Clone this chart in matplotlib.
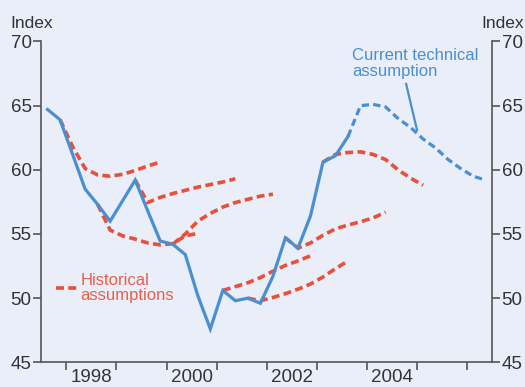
import numpy as np
import matplotlib.pyplot as plt

plt.rcParams['font.family'] = ['Liberation Sans', 'DejaVu Sans']

# quarterly index, first point is 1997 Q3
start_year = 1997.625
actual = [64.7, 63.9, 61.2, 58.5, 57.3, 56.0, 57.6, 59.2, 56.8, 54.45,
          54.2, 53.4, 50.2, 47.6, 50.6, 49.8, 50.0, 49.6, 51.7, 54.7,
          53.9, 56.4, 60.6, 61.1, 62.6]
# current technical assumption, starts at the last actual quarter
current = [62.6, 65.0, 65.1, 64.9, 64.0, 63.3, 62.4, 61.7, 60.8, 60.1, 59.5, 59.2]
current_start = 24

# historical assumptions: (first quarter index, values)
hist_starts = [1, 4, 7, 10, 14, 16, 19, 22]
hist_values = [
    [63.9, 61.8, 60.1, 59.6, 59.5, 59.65, 59.95, 60.3, 60.6],
    [57.3, 55.3, 54.85, 54.6, 54.3, 54.15, 54.25, 54.85, 55.05],
    [59.2, 57.45, 57.85, 58.15, 58.4, 58.65, 58.85, 59.05, 59.3],
    [54.2, 55.0, 56.0, 56.6, 57.1, 57.45, 57.7, 57.95, 58.1],
    [50.6, 50.9, 51.2, 51.6, 52.1, 52.55, 52.9, 53.3],
    [50.0, 49.8, 50.05, 50.35, 50.7, 51.1, 51.65, 52.3, 52.9],
    [54.7, 53.9, 54.3, 54.9, 55.4, 55.7, 55.95, 56.25, 56.7],
    [60.6, 61.2, 61.35, 61.4, 61.2, 60.8, 60.0, 59.35, 58.8],
]

years = [1998, 1999, 2000, 2001, 2002, 2003, 2004, 2005, 2006]
year_labels = ['1998', '', '2000', '', '2002', '', '2004', '', '']

bg = '#e9eef8'
blue = '#4a8fcf'
red = '#e8503a'
axis_col = '#555555'
text_col = '#333333'


def qx(first, n):
    return start_year + 0.25 * (first + np.arange(n))


fig = plt.figure(figsize=(5.25, 3.87), dpi=100, facecolor=bg)
ax = fig.add_axes([0.0787, 0.0638, 0.8584, 0.829], facecolor=bg)

for first, vals in zip(hist_starts, hist_values):
    ax.plot(qx(first, len(vals)), vals, color=red, lw=2.6,
            dashes=(2.2, 1.2), solid_capstyle='butt', zorder=2)

ax.plot(qx(0, len(actual)), actual, color=blue, lw=2.3, zorder=3,
        solid_joinstyle='miter')
ax.plot(qx(current_start, len(current)), current, color=blue, lw=2.3,
        dashes=(2.3, 1.3), zorder=3)

ax.set_xlim(1997.5, 2006.39)
ax.set_ylim(45, 70)

ax.spines['top'].set_visible(False)
for s in ('left', 'right', 'bottom'):
    ax.spines[s].set_color(axis_col)
    ax.spines[s].set_linewidth(1.2)

ax.set_yticks([45, 50, 55, 60, 65, 70])
ax.tick_params(axis='y', which='both', left=True, right=True,
               labelleft=True, labelright=True, length=6, width=1.2,
               color=axis_col, labelcolor=text_col, labelsize=13.5, pad=1)

ax.set_xticks(years)
ax.set_xticklabels([''] * len(years))
ax.set_xticks([y + 0.5 for y in years], minor=True)
ax.set_xticklabels(year_labels, minor=True)
ax.tick_params(axis='x', which='major', length=6, width=1.2, color=axis_col)
ax.tick_params(axis='x', which='minor', length=0, labelcolor=text_col,
               labelsize=13.5, pad=5)

fig.text(0.019, 0.94, 'Index', fontsize=12.5, color=text_col, va='center', ha='left')
fig.text(0.998, 0.94, 'Index', fontsize=12.5, color=text_col, va='center', ha='right')

# labels for the two kinds of lines
ax.text(2003.7, 68.3, 'Current technical\nassumption', fontsize=12,
        color=blue, ha='left', va='center', linespacing=1.05)
ax.plot([2004.786, 2005.003], [66.69, 63.1], color=blue, lw=1.6)
ax.plot([1997.79, 1998.25], [50.76, 50.76], color=red, lw=2.6,
        dashes=(2.2, 1.2))
ax.text(1998.28, 50.8, 'Historical\nassumptions', fontsize=12, color='#e8604a',
        ha='left', va='center', linespacing=1.05)

fig.savefig('out.png', dpi=100, facecolor=bg)
